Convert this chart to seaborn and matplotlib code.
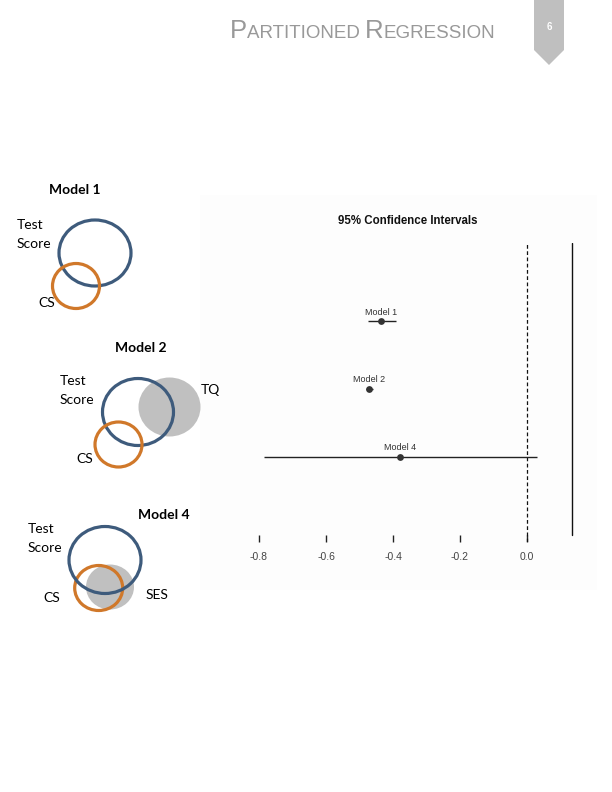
import matplotlib
matplotlib.use("Agg")
import matplotlib.pyplot as plt
import seaborn as sns
import pandas as pd
from matplotlib.patches import Ellipse, Polygon, Rectangle

# ---------------- data ----------------
models = ["Model 1", "Model 2", "Model 4"]
estimates = [-0.436, -0.472, -0.379]
ci_low = [-0.475, -0.480, -0.785]
ci_high = [-0.391, -0.460, 0.030]
x_ticks = [-0.8, -0.6, -0.4, -0.2, 0.0]
x_tick_labels = ["-0.8", "-0.6", "-0.4", "-0.2", "0.0"]
chart_title = "95% Confidence Intervals"
page_number = "6"

df = pd.DataFrame({"model": models, "estimate": estimates,
                   "low": ci_low, "high": ci_high,
                   "row": [3, 2, 1]})

sns.set_theme(style="white")
plt.rcParams['font.family'] = ['Liberation Sans', 'DejaVu Sans']

W, H = 612, 792
fig = plt.figure(figsize=(W / 100, H / 100), dpi=100)
fig.patch.set_facecolor("white")

# overlay in pixel coordinates
ov = fig.add_axes([0, 0, 1, 1], zorder=0)
ov.set_xlim(0, W)
ov.set_ylim(H, 0)
ov.axis("off")

# faint chart panel
ov.add_patch(Rectangle((200, 195), 397, 395, facecolor="#fdfdfd", edgecolor="none"))

# page tab
ov.add_patch(Polygon([(534, 0), (564, 0), (564, 50), (549, 65), (534, 50)],
                     closed=True, facecolor="#bfbfbf", edgecolor="none"))
ov.text(549, 27, page_number, color="white", fontsize=7, fontweight="bold",
        ha="center", va="center")

# header in small caps
renderer = fig.canvas.get_renderer()
pieces = [("P", 18.5), ("ARTITIONED ", 13.5), ("R", 18.5), ("EGRESSION", 13.5)]
xpos = 230 / W
for txt, fs in pieces:
    t = fig.text(xpos, 1 - 38 / H, txt, fontsize=fs, color="#999999",
                 ha="left", va="baseline", family="Liberation Sans")
    bb = t.get_window_extent(renderer=renderer)
    xpos += bb.width / W

# Venn diagrams (decorative)
blue = "#3e5b7c"
orange = "#d0782a"
gray = "#c0c0c0"
lw = 2.3
venn_font = ['Lato', 'DejaVu Sans']

def ring(x, y, w, h, color):
    ov.add_patch(Ellipse((x, y), w, h, facecolor="none", edgecolor=color, linewidth=lw))

def disc(x, y, w, h):
    ov.add_patch(Ellipse((x, y), w, h, facecolor=gray, edgecolor="none"))

def label(x, y, s, bold=False, ha="left"):
    ov.text(x, y, s, fontsize=10, fontweight="bold" if bold else "normal",
            ha=ha, va="center", color="black", family=venn_font)

# Model 1
label(75, 190, "Model 1", bold=True, ha="center")
ring(95, 253, 72, 66, blue)
ring(76, 286, 47, 45, orange)
label(17, 225, "Test")
label(17, 244, "Score")
label(38, 303, "CS")

# Model 2
label(141, 348, "Model 2", bold=True, ha="center")
disc(169.5, 407, 62, 59)
ring(138, 412, 71, 67, blue)
ring(118.5, 444.5, 47, 45, orange)
label(60, 381, "Test")
label(60, 400, "Score")
label(201, 390, "TQ")
label(76, 459, "CS")

# Model 4
label(164, 515, "Model 4", bold=True, ha="center")
disc(110, 587, 48, 45)
ring(98.7, 588, 48, 45, orange)
ring(105, 560, 72, 67, blue)
label(28, 529, "Test")
label(28, 548, "Score")
label(43, 598, "CS")
label(146, 595, "SES")

# ---------------- forest plot ----------------
px0 = 527.0       # pixel of x = 0
pscale = 335.0    # pixels per unit
left_px, right_px = 240, 590
top_px, bot_px = 243, 542
ax = fig.add_axes([left_px / W, 1 - bot_px / H, (right_px - left_px) / W,
                   (bot_px - top_px) / H], zorder=2)
ax.patch.set_alpha(0)
ax.set_xlim((left_px - px0) / pscale, (right_px - px0) / pscale)
ax.set_ylim(-0.26, 4.16)

ax.hlines(df["row"], df["low"], df["high"], color="#222222", linewidth=1.0, zorder=2)
sns.scatterplot(data=df, x="estimate", y="row", ax=ax, color="#333333",
                s=24, edgecolor="#333333", linewidth=0, zorder=3, legend=False)
for _, r in df.iterrows():
    ax.annotate(r["model"], (r["estimate"], r["row"]), xytext=(0, 3.5),
                textcoords="offset points", ha="center", va="bottom",
                fontsize=6.5, color="#333333")
ax.axvline(0.0, color="#111111", linestyle=(0, (3, 2)), linewidth=0.9, zorder=1)
vl = ax.axvline((572 - px0) / pscale, color="#111111", linewidth=1.0)
vl.set_ydata([(bot_px - 535) / (bot_px - top_px), 1])

for s in ax.spines.values():
    s.set_visible(False)
ax.set_xticks(x_ticks)
ax.set_xticklabels(x_tick_labels)
ax.tick_params(axis="x", direction="in", length=5, width=1, color="#222222",
               labelsize=7.5, labelcolor="#444444", pad=7, bottom=True)
ax.set_yticks([])
ax.set_xlabel("")
ax.set_ylabel("")
ax.grid(False)

fig.text(408 / W, 1 - 221 / H, chart_title, fontsize=8.3, fontweight="bold",
         ha="center", va="center", color="#111111")

fig.savefig("out.png", dpi=100)
